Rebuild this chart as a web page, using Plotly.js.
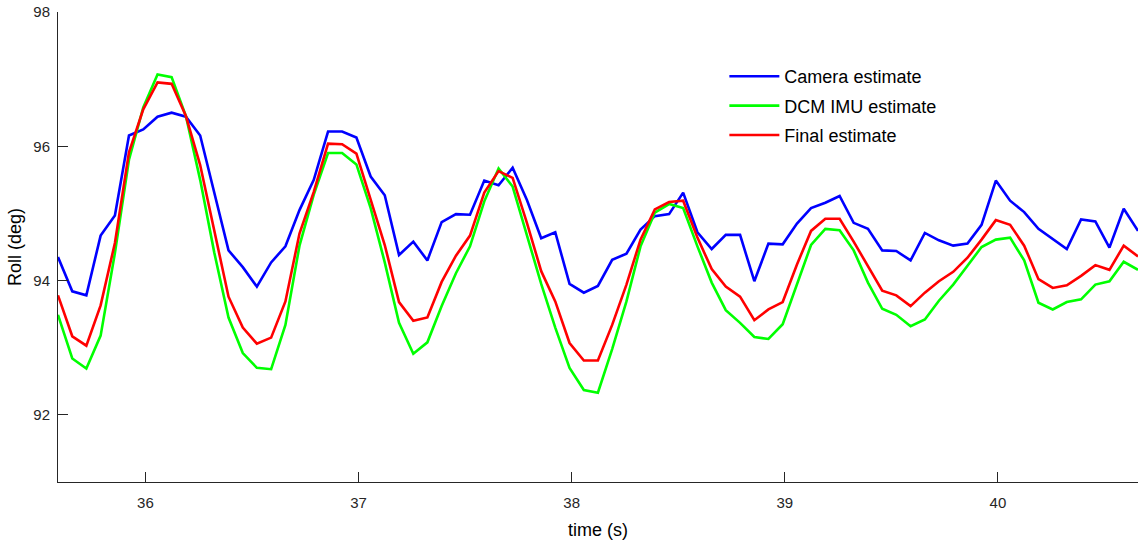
<!DOCTYPE html>
<html>
<head>
<meta charset="utf-8">
<script src="https://cdn.plot.ly/plotly-3.0.1.min.js"></script>
<style>
  html, body { margin: 0; padding: 0; background: #ffffff; }
  #chart { width: 1138px; height: 544px; }
</style>
</head>
<body>
<div id="chart"></div>
<script>
// Sample times (s)
const time = [
  35.590, 35.657, 35.723, 35.790, 35.857, 35.923, 35.990, 36.057, 36.123, 36.190,
  36.257, 36.323, 36.390, 36.457, 36.523, 36.590, 36.657, 36.723, 36.790, 36.857,
  36.923, 36.990, 37.057, 37.123, 37.190, 37.257, 37.323, 37.390, 37.457, 37.523,
  37.590, 37.657, 37.723, 37.790, 37.857, 37.923, 37.990, 38.057, 38.123, 38.190,
  38.257, 38.323, 38.390, 38.457, 38.523, 38.590, 38.657, 38.723, 38.790, 38.857,
  38.923, 38.990, 39.057, 39.123, 39.190, 39.257, 39.323, 39.390, 39.457, 39.523,
  39.590, 39.657, 39.723, 39.790, 39.857, 39.923, 39.990, 40.057, 40.123, 40.190,
  40.257, 40.323, 40.390, 40.457, 40.523, 40.590, 40.657
];

// Roll (deg)
const cameraEstimate = [
  94.35, 93.84, 93.78, 94.67, 94.97, 96.16, 96.25, 96.44, 96.50, 96.44,
  96.16, 95.31, 94.45, 94.20, 93.91, 94.27, 94.51, 95.05, 95.50, 96.22,
  96.22, 96.13, 95.55, 95.27, 94.38, 94.58, 94.30, 94.87, 94.99, 94.98,
  95.49, 95.42, 95.68, 95.20, 94.63, 94.72, 93.95, 93.82, 93.92, 94.31,
  94.40, 94.76, 94.96, 94.99, 95.31, 94.72, 94.47, 94.68, 94.68, 93.99,
  94.55, 94.54, 94.85, 95.08, 95.16, 95.26, 94.86, 94.77, 94.45, 94.44,
  94.30, 94.71, 94.60, 94.52, 94.55, 94.83, 95.49, 95.19, 95.02, 94.77,
  94.62, 94.47, 94.91, 94.88, 94.49, 95.07, 94.74
];

const dcmImuEstimate = [
  93.49, 92.84, 92.69, 93.18, 94.41, 95.80, 96.58, 97.07, 97.03, 96.45,
  95.50, 94.42, 93.45, 92.92, 92.70, 92.68, 93.34, 94.52, 95.28, 95.90,
  95.90, 95.73, 95.08, 94.27, 93.37, 92.91, 93.08, 93.62, 94.11, 94.51,
  95.18, 95.67, 95.40, 94.68, 93.95, 93.30, 92.70, 92.37, 92.33, 92.98,
  93.69, 94.51, 95.01, 95.14, 95.08, 94.51, 93.97, 93.56, 93.37, 93.16,
  93.13, 93.35, 93.96, 94.53, 94.77, 94.75, 94.45, 93.97, 93.58, 93.49,
  93.32, 93.42, 93.70, 93.94, 94.22, 94.50, 94.61, 94.64, 94.30, 93.67,
  93.57, 93.68, 93.72, 93.94, 93.99, 94.28, 94.16
];

const finalEstimate = [
  93.78, 93.17, 93.03, 93.63, 94.56, 95.91, 96.55, 96.95, 96.93, 96.45,
  95.72, 94.76, 93.76, 93.30, 93.06, 93.15, 93.69, 94.70, 95.32, 96.04,
  96.03, 95.89, 95.22, 94.53, 93.68, 93.40, 93.45, 93.98, 94.37, 94.67,
  95.31, 95.63, 95.53, 94.86, 94.14, 93.69, 93.07, 92.81, 92.81, 93.34,
  93.94, 94.61, 95.06, 95.17, 95.19, 94.64, 94.17, 93.91, 93.76, 93.41,
  93.57, 93.68, 94.24, 94.74, 94.92, 94.92, 94.58, 94.21, 93.85, 93.78,
  93.62, 93.82, 93.99, 94.13, 94.34, 94.61, 94.90, 94.83, 94.52, 94.02,
  93.89, 93.93, 94.07, 94.23, 94.16, 94.52, 94.36
];

const seriesNames = ["Camera estimate", "DCM IMU estimate", "Final estimate"];
const seriesColors = ["#0000ff", "#00ff00", "#ff0000"];
const xTickVals = [36, 37, 38, 39, 40];
const yTickVals = [92, 94, 96, 98];

const seriesValues = [cameraEstimate, dcmImuEstimate, finalEstimate];
const FONT = "Liberation Sans, Arial, sans-serif";
const AXIS_COLOR = "#262626";

const traces = seriesValues.map((vals, i) => ({
  type: "scatter",
  mode: "lines",
  x: time,
  y: vals,
  name: seriesNames[i],
  legendgroup: "g" + i,
  line: { color: seriesColors[i], width: 2.6 },
  hoverinfo: "x+y+name"
}));

const layout = {
  width: 1138,
  height: 544,
  margin: { l: 58, r: 0, t: 12, b: 62, pad: 0 },
  paper_bgcolor: "#ffffff",
  plot_bgcolor: "#ffffff",
  font: { family: FONT, color: AXIS_COLOR, size: 15 },
  showlegend: true,
  legend: {
    x: 0.617, y: 0.902, xanchor: "left", yanchor: "top",
    bgcolor: "rgba(0,0,0,0)",
    borderwidth: 0,
    font: { family: FONT, size: 18, color: "#000000" },
    itemwidth: 50,
    tracegroupgap: 3
  },
  xaxis: {
    range: [time[0], time[time.length - 1]],
    tickvals: xTickVals,
    ticktext: xTickVals.map(String),
    ticks: "inside",
    ticklen: 10,
    tickwidth: 1,
    tickcolor: AXIS_COLOR,
    showline: true,
    linecolor: AXIS_COLOR,
    linewidth: 1,
    mirror: false,
    showgrid: false,
    zeroline: false,
    ticklabelstandoff: 7,
    tickfont: { family: FONT, size: 15, color: AXIS_COLOR },
    title: { text: "time (s)", font: { family: FONT, size: 18, color: "#000000" }, standoff: 13 },
    automargin: false
  },
  yaxis: {
    range: [91, 98],
    tickvals: yTickVals,
    ticktext: yTickVals.map(String),
    ticks: "inside",
    ticklen: 10,
    tickwidth: 1,
    tickcolor: AXIS_COLOR,
    showline: true,
    linecolor: AXIS_COLOR,
    linewidth: 1,
    mirror: false,
    showgrid: false,
    zeroline: false,
    ticklabelstandoff: 4,
    tickfont: { family: FONT, size: 15, color: AXIS_COLOR },
    title: { text: "Roll (deg)", font: { family: FONT, size: 18, color: "#000000" }, standoff: 7 },
    automargin: false
  }
};

Plotly.newPlot("chart", traces, layout, { displayModeBar: false, staticPlot: false });
</script>
</body>
</html>
